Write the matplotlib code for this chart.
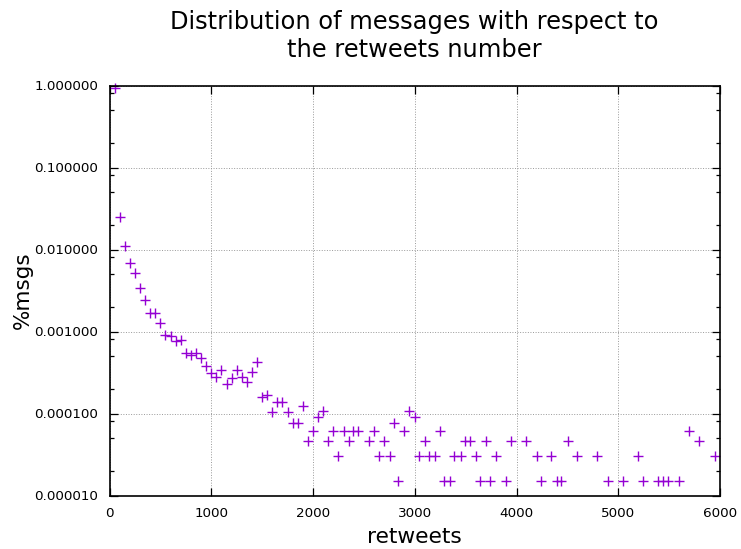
import matplotlib
matplotlib.use("Agg")
import matplotlib.pyplot as plt
from matplotlib.ticker import FixedLocator, FuncFormatter, NullFormatter

# retweet count of each bin and fraction of messages falling in it
retweets = [
    50, 100, 150, 200, 250, 300, 350, 400, 450, 500,
    550, 600, 650, 700, 750, 800, 850, 900, 950, 1000,
    1050, 1100, 1150, 1200, 1250, 1300, 1350, 1400, 1450, 1500,
    1550, 1600, 1650, 1700, 1750, 1800, 1850, 1900, 1950, 2000,
    2050, 2095, 2147, 2199, 2245, 2301, 2350, 2395, 2444, 2549,
    2598, 2650, 2699, 2752, 2797, 2840, 2899, 2944, 3000, 3046,
    3101, 3144, 3196, 3248, 3287, 3350, 3385, 3451, 3497, 3546,
    3601, 3640, 3699, 3740, 3796, 3895, 3948, 4095, 4199, 4238,
    4340, 4395, 4441, 4503, 4591, 4791, 4895, 5042, 5199, 5245,
    5392, 5441, 5493, 5598, 5696, 5797, 5948,
]
msgs_fraction = [
    0.93, 0.0247, 0.0109, 0.0068, 0.0052, 0.0034, 0.0024, 0.0017, 0.00166, 0.00128,
    0.00091, 0.00089, 0.00076, 0.00078, 0.00055, 0.00052, 0.00055, 0.00047, 0.00038, 0.00031,
    0.00028, 0.00034, 0.00023, 0.00027, 0.00034, 0.00028, 0.00024, 0.00032, 0.00042, 0.000158,
    0.000167, 0.000105, 0.000137, 0.000137, 0.000105, 0.000077, 0.000077, 0.000124, 0.0000456, 0.0000608,
    0.000091, 0.000106, 0.0000456, 0.0000608, 0.0000304, 0.0000608, 0.0000456, 0.0000608, 0.0000608, 0.0000456,
    0.0000608, 0.0000304, 0.0000456, 0.0000304, 0.000076, 0.0000152, 0.0000608, 0.000106, 0.000091, 0.0000304,
    0.0000456, 0.0000304, 0.0000304, 0.0000608, 0.0000152, 0.0000152, 0.0000304, 0.0000304, 0.0000456, 0.0000456,
    0.0000304, 0.0000152, 0.0000456, 0.0000152, 0.0000304, 0.0000152, 0.0000456, 0.0000456, 0.0000304, 0.0000152,
    0.0000304, 0.0000152, 0.0000152, 0.0000456, 0.0000304, 0.0000304, 0.0000152, 0.0000152, 0.0000304, 0.0000152,
    0.0000152, 0.0000152, 0.0000152, 0.0000152, 0.0000608, 0.0000456, 0.0000304,
]

x_ticks = [0, 1000, 2000, 3000, 4000, 5000, 6000]
y_ticks = [0.00001, 0.0001, 0.001, 0.01, 0.1, 1.0]
y_minor = [m * d for d in y_ticks[:-1] for m in (2, 5, 8)]

W, H = 741, 549
fig = plt.figure(figsize=(W / 100, H / 100), dpi=100)
left, right, top, bottom = 109.5, 720.0, 85.5, 495.5
ax = fig.add_axes([left / W, 1 - bottom / H, (right - left) / W, (bottom - top) / H])

ax.plot(retweets, msgs_fraction, linestyle="none", marker="+",
        markersize=7.4, markeredgewidth=1.0, color="#9400D3", clip_on=False)

ax.set_yscale("log")
ax.set_xlim(0, 6000)
ax.set_ylim(0.00001, 1.0)

ax.xaxis.set_major_locator(FixedLocator(x_ticks))
ax.xaxis.set_major_formatter(FuncFormatter(lambda v, p: f"{int(v)}"))
ax.yaxis.set_major_locator(FixedLocator(y_ticks))
ax.yaxis.set_major_formatter(FuncFormatter(lambda v, p: f"{v:f}"))
ax.yaxis.set_minor_locator(FixedLocator(y_minor))
ax.yaxis.set_minor_formatter(NullFormatter())
ax.xaxis.set_minor_locator(FixedLocator([]))

ax.tick_params(which="both", direction="in", top=True, right=True,
               labelsize=9.7, pad=8, width=0.9, color="black")
ax.tick_params(which="major", length=6)
ax.tick_params(which="minor", length=3)

for s in ax.spines.values():
    s.set_linewidth(1.2)
    s.set_color("black")

ax.grid(True, which="major", linestyle=":", linewidth=0.7, color="#999999")
ax.set_axisbelow(True)

ax.set_xlabel("retweets", fontsize=15.7, labelpad=5)
ax.set_ylabel("%msgs", fontsize=15.5, labelpad=1)
ax.set_title("Distribution of messages with respect to\nthe retweets number",
             fontsize=17.4, pad=20.8, linespacing=1.2)

fig.savefig("out.png", dpi=100)
